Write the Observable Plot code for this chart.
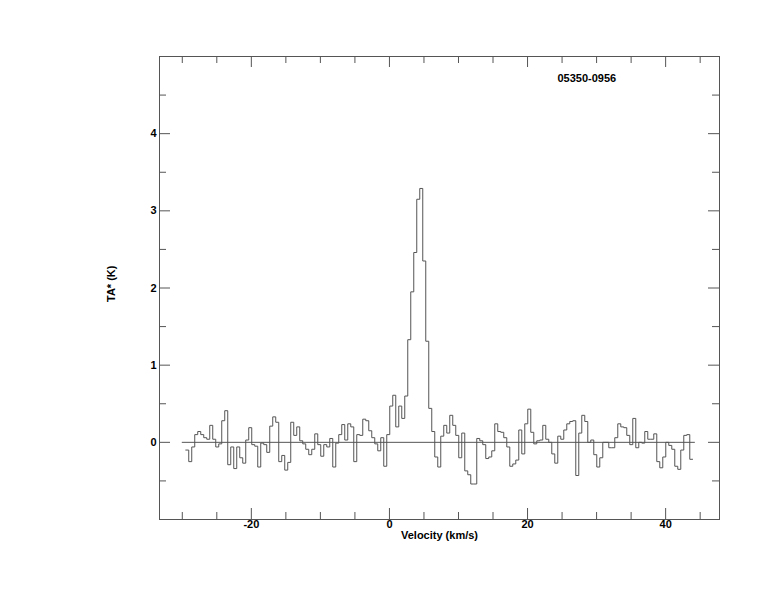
<!DOCTYPE html>
<html>
<head>
<meta charset="utf-8">
<script src="https://cdn.jsdelivr.net/npm/d3@7"></script>
<script src="https://cdn.jsdelivr.net/npm/@observablehq/plot@0.6"></script>
<style>
  html, body { margin: 0; padding: 0; background: #fff; }
</style>
</head>
<body>
<div id="chart"></div>
<script>
// ---- data ----
const sourceName = "05350-0956";
const xLabel = "Velocity (km/s)";
const yLabel = "TA* (K)";
const vStart = -29.5;      // left edge of the first channel (km/s)
const chanWidth = 0.4345;  // channel width (km/s)
const ta = [
  -0.10, -0.25, -0.06, 0.10, 0.14, 0.10, 0.06, 0.04, 0.22, 0.04,
  -0.06, -0.02, 0.28, 0.41, -0.29, -0.06, -0.34, -0.06, -0.20, -0.27,
  0.03, 0.19, -0.03, -0.05, -0.32, -0.01, -0.03, -0.13, 0.21, 0.33,
  0.26, -0.25, -0.17, -0.36, -0.26, 0.26, 0.09, 0.20, 0.02, -0.02,
  -0.09, -0.16, -0.09, 0.11, -0.03, -0.18, -0.03, -0.06, 0.05, -0.32,
  -0.01, 0.10, 0.23, 0.03, 0.24, 0.20, -0.25, 0.10, 0.09, 0.30,
  0.28, 0.15, 0.06, -0.02, -0.11, 0.06, -0.31, 0.10, 0.47, 0.61,
  0.20, 0.47, 0.31, 0.60, 1.33, 1.95, 2.46, 3.15, 3.29, 2.35,
  1.31, 0.44, 0.14, -0.19, -0.32, 0.08, 0.22, 0.12, 0.35, 0.22,
  0.09, -0.20, 0.12, -0.37, -0.42, -0.54, -0.54, 0.05, 0.02, -0.03,
  -0.21, -0.19, -0.11, 0.24, 0.14, 0.13, 0.06, -0.06, -0.31, -0.28,
  -0.23, 0.16, -0.15, 0.24, 0.43, 0.13, -0.02, 0.02, 0.03, 0.22,
  0.04, 0.00, -0.15, -0.27, 0.08, 0.04, 0.16, 0.24, 0.27, 0.28,
  -0.43, 0.12, 0.35, 0.27, 0.00, 0.03, -0.16, -0.32, -0.20, 0.00,
  0.00, -0.07, -0.07, 0.06, 0.24, 0.20, 0.19, 0.09, -0.03, 0.31,
  -0.07, 0.00, -0.01, 0.14, 0.04, 0.04, 0.11, -0.25, -0.33, -0.19,
  0.00, -0.04, -0.09, -0.31, -0.35, -0.10, 0.09, 0.10, -0.22
];
const baselineRange = [-30, 44.3];
const xDomain = [-33.3, 47.8];
const yDomain = [-1, 5];
const xTickLabels = [-20, 0, 20, 40];
const xMinorTicks = [-30, -25, -15, -10, -5, 5, 10, 15, 25, 30, 35, 45];
const yTickLabels = [0, 1, 2, 3, 4];
const yMinorTicks = [-0.5, 0.5, 1.5, 2.5, 3.5, 4.5];

// ---- layout ----
const W = 774, H = 612;
const mL = 159, mR = 55, mT = 56, mB = 93;
const innerW = W - mL - mR, innerH = H - mT - mB;
const majorLen = 11, minorLen = 7;
const ink = "#555";
const plain = d => String(d); // ASCII hyphen for negatives

// step table built from the channel values
const rows = ta.map((t, i) => ({v: vStart + i * chanWidth, t}));
rows.push({v: vStart + ta.length * chanWidth, t: ta[ta.length - 1]});

const chart = Plot.plot({
  width: W,
  height: H,
  marginLeft: mL,
  marginRight: mR,
  marginTop: mT,
  marginBottom: mB,
  x: {domain: xDomain, axis: null},
  y: {domain: yDomain, axis: null},
  style: {
    fontFamily: "'Liberation Sans', Arial, Helvetica, sans-serif",
    fontSize: "11px",
    fontWeight: "bold",
    color: "black",
    background: "white"
  },
  marks: [
    Plot.frame({stroke: ink}),
    // inward ticks: bottom & top
    Plot.ruleX(xTickLabels, {x: d => d, stroke: ink, insetTop: innerH - majorLen}),
    Plot.ruleX(xMinorTicks, {x: d => d, stroke: ink, insetTop: innerH - minorLen}),
    Plot.ruleX(xTickLabels, {x: d => d, stroke: ink, insetBottom: innerH - majorLen}),
    Plot.ruleX(xMinorTicks, {x: d => d, stroke: ink, insetBottom: innerH - minorLen}),
    // inward ticks: left & right
    Plot.ruleY(yTickLabels, {y: d => d, stroke: ink, insetRight: innerW - majorLen}),
    Plot.ruleY(yMinorTicks, {y: d => d, stroke: ink, insetRight: innerW - minorLen}),
    Plot.ruleY(yTickLabels, {y: d => d, stroke: ink, insetLeft: innerW - majorLen}),
    Plot.ruleY(yMinorTicks, {y: d => d, stroke: ink, insetLeft: innerW - minorLen}),
    // tick labels
    Plot.axisX(xTickLabels, {anchor: "bottom", tickSize: 0, tickPadding: 1, label: null, tickFormat: plain, fill: "black"}),
    Plot.axisY(yTickLabels, {anchor: "left", tickSize: 0, tickPadding: 3, label: null, tickFormat: plain, fill: "black"}),
    // axis titles
    Plot.text([xLabel], {frameAnchor: "bottom", dy: 19, fill: "black"}),
    Plot.text([yLabel], {frameAnchor: "left", dx: -48, dy: 14, rotate: -90, fill: "black"}),
    Plot.text([sourceName], {frameAnchor: "top", textAnchor: "start", dx: 118, dy: 18, fill: "black"}),
    // zero baseline
    Plot.ruleY([0], {x1: baselineRange[0], x2: baselineRange[1], stroke: ink}),
    // spectrum
    Plot.line(rows, {x: "v", y: "t", curve: "step-after", stroke: ink, strokeWidth: 1})
  ]
});
document.getElementById("chart").appendChild(chart);
</script>
</body>
</html>
